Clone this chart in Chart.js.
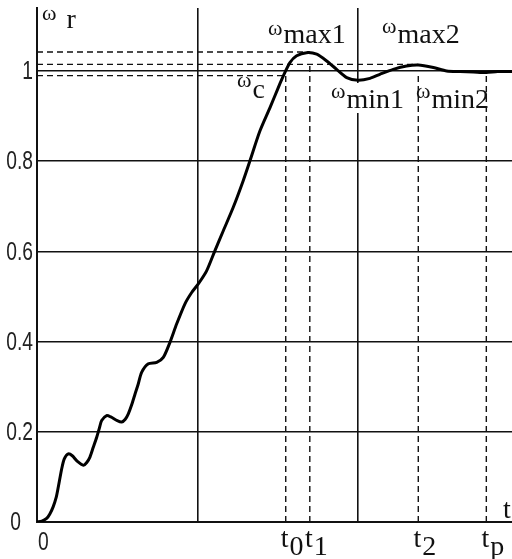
<!DOCTYPE html>
<html>
<head>
<meta charset="utf-8">
<script src="https://cdn.jsdelivr.net/npm/chart.js@4/dist/chart.umd.min.js"></script>
<style>
  html, body { margin: 0; padding: 0; background: #fff; }
</style>
</head>
<body>
<canvas id="speedChart" width="512" height="559"></canvas>
<script>
// rotor speed response
const timeValues = [0, 0.03, 0.06, 0.08, 0.10, 0.12, 0.133, 0.154, 0.17, 0.195, 0.22, 0.25, 0.29, 0.31, 0.33, 0.35,
    0.372, 0.39, 0.403, 0.434, 0.46, 0.5, 0.528, 0.55, 0.569, 0.59, 0.611, 0.63, 0.652, 0.694, 0.746, 0.787,
    0.829, 0.87, 0.922, 0.964, 1.005, 1.057, 1.109, 1.161, 1.223, 1.285, 1.327, 1.389, 1.452, 1.503, 1.545,
    1.576, 1.618, 1.68, 1.743, 1.805, 1.867, 1.93, 2.0, 2.075, 2.137, 2.22, 2.303, 2.376, 2.47, 2.553, 2.636,
    2.72, 2.8, 2.87, 2.96];
const omegaValues = [0, 0.002, 0.008, 0.018, 0.033, 0.055, 0.078, 0.118, 0.14, 0.151, 0.147, 0.135, 0.126, 0.132, 0.144, 0.165,
    0.188, 0.21, 0.225, 0.236, 0.233, 0.225, 0.222, 0.228, 0.24, 0.26, 0.284, 0.305, 0.332, 0.351, 0.354, 0.365,
    0.399, 0.439, 0.484, 0.509, 0.528, 0.557, 0.602, 0.646, 0.698, 0.757, 0.801, 0.867, 0.919, 0.963, 0.997,
    1.019, 1.034, 1.041, 1.0375, 1.0226, 1.004, 0.9856, 0.98, 0.984, 0.993, 1.004, 1.0115, 1.0137, 1.008, 1.0004, 0.999,
    0.998, 0.997, 0.999, 0.999];

const yTickValues = [0, 0.2, 0.4, 0.6, 0.8, 1];
const yTickLabels = ['0', '0.2', '0.4', '0.6', '0.8', '1'];
const xGridValues = [0, 1, 2];

// t0, t1, t2, tp
const markTimes = [1.55, 1.70, 2.376, 2.80];
const markNames = ['0', '1', '2', 'p'];
const markTops = [0.99, 1.015, 0.995, 0.995];

// omega max1, omega max2, lower band
const levelValues = [1.0425, 1.015, 0.99];
const levelEnds = [1.70, 2.376, 1.55];

const ink = '#111';

const curve = timeValues.map((t, i) => ({x: t, y: omegaValues[i]}));

const dashed = {
    borderColor: ink,
    borderWidth: 1.4,
    borderDash: [6, 4],
    pointRadius: 0,
    showLine: true,
    fill: false,
};

const levelSets = levelValues.map((v, i) => Object.assign({
    label: 'level ' + i,
    data: [{x: 0, y: v}, {x: levelEnds[i], y: v}],
}, dashed));

const markSets = markTimes.map((t, i) => Object.assign({
    label: 't' + markNames[i],
    data: [{x: t, y: 0}, {x: t, y: markTops[i]}],
}, dashed));

// narrow sans digits, squeezed horizontally
function narrowText(ctx, text, x, y, align) {
    ctx.save();
    ctx.font = '26px "Liberation Sans", Arial, sans-serif';
    ctx.textAlign = align;
    ctx.textBaseline = 'middle';
    ctx.translate(x, y);
    ctx.scale(0.74, 1);
    ctx.fillText(text, 0, 0);
    ctx.restore();
}

const textPlugin = {
    id: 'textPlugin',
    afterDatasetsDraw(chart) {
        const ctx = chart.ctx;
        const xs = chart.scales.x;
        const ys = chart.scales.y;
        const greek = '22px "Liberation Serif", "DejaVu Serif", serif';
        const roman = '28px "Liberation Serif", "DejaVu Serif", serif';
        ctx.save();
        ctx.textBaseline = 'alphabetic';
        ctx.textAlign = 'left';
        ctx.fillStyle = ink;

        function omega(sub, left, base, lift, gap, bg) {
            ctx.font = greek;
            const w1 = ctx.measureText('ω').width;
            ctx.font = roman;
            const w2 = ctx.measureText(sub).width;
            if (bg) {
                ctx.fillStyle = '#fff';
                ctx.fillRect(left - 3, base - 25, w1 + gap + w2 + 6, 30);
                ctx.fillStyle = ink;
            }
            ctx.font = greek;
            ctx.fillText('ω', left, base - lift);
            ctx.font = roman;
            ctx.fillText(sub, left + w1 + gap, base);
        }

        omega('r', 42, 28, 8, 10, false);
        omega('max1', 268, 43, 8, 1, false);
        omega('max2', 382, 43, 10, 1, false);
        omega('c', 237, 98, 11, 1, false);
        omega('min1', 331, 108, 10, 1, true);
        omega('min2', 416, 108, 10, 1, false);

        // time marks under the axis
        markTimes.forEach((t, i) => {
            const px = xs.getPixelForValue(t);
            ctx.font = roman;
            const wt = ctx.measureText('t').width;
            ctx.fillText('t', px - wt / 2 - 1, 547);
            ctx.fillText(markNames[i], px + wt / 2, 555);
        });

        ctx.font = roman;
        ctx.fillText('t', 503, 518);

        // y tick labels (the zero sits further left, as in the original)
        ctx.fillStyle = '#222';
        yTickValues.forEach((v, i) => {
            const right = v === 0 ? xs.left - 16 : xs.left - 4;
            narrowText(ctx, yTickLabels[i], right, ys.getPixelForValue(v) + 1, 'right');
        });
        narrowText(ctx, '0', xs.getPixelForValue(0) + 1, 543, 'left');
        ctx.restore();
    }
};

const speedChart = new Chart(
    document.getElementById('speedChart'), {
        type: 'scatter',
        plugins: [textPlugin],
        data: {
            datasets: [
                {
                    label: 'omega r',
                    data: curve,
                    showLine: true,
                    borderColor: '#000',
                    borderWidth: 3,
                    pointRadius: 0,
                    tension: 0.25,
                    fill: false,
                },
                ...levelSets,
                ...markSets,
            ]
        },
        options: {
            responsive: false,
            animation: false,
            layout: {
                padding: {left: 0, top: 8, right: 0, bottom: 0}
            },
            scales: {
                x: {
                    type: 'linear',
                    min: 0,
                    max: 2.96,
                    afterBuildTicks: s => { s.ticks = xGridValues.map(v => ({value: v})); },
                    afterFit: s => {
                        s.height = 37;
                        s.paddingLeft = 0; s.paddingRight = 0; s.paddingTop = 0; s.paddingBottom = 0;
                    },
                    ticks: {display: false},
                    grid: {color: ink, lineWidth: 1.6, drawTicks: false},
                    border: {color: ink, width: 2},
                },
                y: {
                    min: 0,
                    max: 1.14,
                    afterBuildTicks: s => { s.ticks = yTickValues.map(v => ({value: v})); },
                    afterFit: s => {
                        s.width = 37;
                        s.paddingLeft = 0; s.paddingRight = 0; s.paddingTop = 0; s.paddingBottom = 0;
                    },
                    ticks: {display: false},
                    grid: {color: ink, lineWidth: 1.6, drawTicks: false},
                    border: {color: ink, width: 2},
                },
            },
            plugins: {
                legend: {display: false},
                tooltip: {enabled: false},
            },
        },
    }
);
</script>
</body>
</html>
